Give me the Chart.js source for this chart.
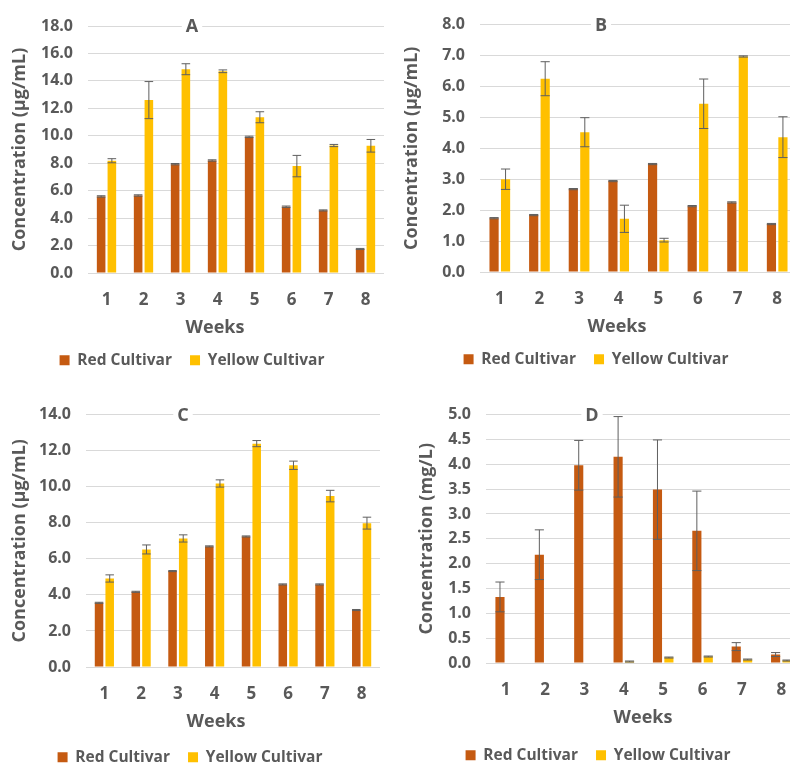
<!DOCTYPE html>
<html lang="en">
<head>
<meta charset="UTF-8" />
<title>Concentration by week</title>
<script src="https://cdn.jsdelivr.net/npm/chart.js"></script>
<style>
  html, body { margin: 0; padding: 0; background: #fff; }
  body { width: 790px; height: 764px; overflow: hidden; position: relative; }
  canvas { position: absolute; }
</style>
</head>
<body>
<canvas id="chartA" width="395" height="380" style="left:0;top:0"></canvas>
<canvas id="chartB" width="436" height="379" style="left:395px;top:0"></canvas>
<canvas id="chartC" width="450" height="387" style="left:0;top:390px"></canvas>
<canvas id="chartD" width="456" height="385" style="left:395px;top:390px"></canvas>

<script>
const weeks = ['1', '2', '3', '4', '5', '6', '7', '8'];

// panel A (µg/mL)
const redA = [5.58, 5.65, 7.93, 8.2, 9.92, 4.83, 4.56, 1.75];
const redErrA = [0.05, 0.05, 0.05, 0.05, 0.05, 0.05, 0.04, 0.04];
const yellowA = [8.18, 12.6, 14.85, 14.7, 11.35, 7.79, 9.29, 9.27];
const yellowErrA = [0.15, 1.35, 0.4, 0.1, 0.4, 0.78, 0.08, 0.46];

// panel B (µg/mL)
const redB = [1.74, 1.84, 2.68, 2.94, 3.49, 2.13, 2.25, 1.55];
const redErrB = [0.02, 0.02, 0.02, 0.02, 0.02, 0.02, 0.02, 0.02];
const yellowB = [3.0, 6.25, 4.52, 1.72, 1.03, 5.44, 6.97, 4.36];
const yellowErrB = [0.33, 0.55, 0.47, 0.44, 0.06, 0.8, 0.02, 0.66];

// panel C (µg/mL)
const redC = [3.56, 4.17, 5.32, 6.69, 7.24, 4.58, 4.58, 3.16];
const redErrC = [0.03, 0.03, 0.03, 0.03, 0.03, 0.03, 0.03, 0.03];
const yellowC = [4.91, 6.52, 7.13, 10.18, 12.39, 11.19, 9.48, 7.98];
const yellowErrC = [0.2, 0.25, 0.2, 0.2, 0.17, 0.23, 0.32, 0.33];

// panel D (mg/L)
const redD = [1.33, 2.18, 3.98, 4.15, 3.49, 2.66, 0.33, 0.17];
const redErrD = [0.3, 0.5, 0.5, 0.81, 1.0, 0.8, 0.08, 0.04];
const yellowD = [0, 0, 0, 0.03, 0.11, 0.13, 0.07, 0.05];
const yellowErrD = [0, 0, 0, 0.01, 0.01, 0.01, 0.01, 0.01];

const FONT = '"Open Sans", sans-serif';
const TEXT = '#595959';
const RED = '#C55A11';
const YELLOW = '#FFC000';

// error bars, drawn from the dataset values through the y scale
const errorBars = {
  id: 'errorBars',
  afterDatasetsDraw(chart) {
    const ctx = chart.ctx;
    const y = chart.scales.y;
    chart.data.datasets.forEach((ds, i) => {
      if (!ds.errors) return;
      chart.getDatasetMeta(i).data.forEach((bar, j) => {
        const e = ds.errors[j];
        if (!e) return;
        const v = ds.data[j];
        const top = y.getPixelForValue(v + e);
        const bot = y.getPixelForValue(Math.max(0, v - e));
        const half = bar.width / 2;
        ctx.save();
        ctx.strokeStyle = '#5f5f5f';
        ctx.lineWidth = 1;
        ctx.beginPath();
        ctx.moveTo(bar.x, top); ctx.lineTo(bar.x, bot);
        ctx.moveTo(bar.x - half, top); ctx.lineTo(bar.x + half, top);
        ctx.moveTo(bar.x - half, bot); ctx.lineTo(bar.x + half, bot);
        ctx.stroke();
        ctx.restore();
      });
    });
  }
};

// panel letter and "Weeks" label
const panelText = {
  id: 'panelText',
  afterDraw(chart, args, opts) {
    const ctx = chart.ctx;
    const area = chart.chartArea;
    ctx.save();
    ctx.textAlign = 'center';
    ctx.textBaseline = 'middle';
    ctx.font = 'bold 18px ' + FONT;
    const w = ctx.measureText(opts.letter).width;
    ctx.fillStyle = '#fff';
    ctx.fillRect(opts.letterX - w / 2 - 4, area.top - 9, w + 8, 18);
    ctx.fillStyle = TEXT;
    ctx.fillText(opts.letter, opts.letterX, area.top + 1);
    ctx.fillText('Weeks', opts.weeksX, area.bottom + 55);
    ctx.restore();
  }
};

function makeChart(id, cfg) {
  const canvas = document.getElementById(id);
  const H = canvas.height;
  return new Chart(canvas, {
    type: 'bar',
    data: {
      labels: weeks,
      datasets: [
        { label: 'Red Cultivar', data: cfg.red, errors: cfg.redErr, backgroundColor: RED,
          categoryPercentage: 0.58, barPercentage: 0.8 },
        { label: 'Yellow Cultivar', data: cfg.yellow, errors: cfg.yellowErr, backgroundColor: YELLOW,
          categoryPercentage: 0.58, barPercentage: 0.8 }
      ]
    },
    options: {
      responsive: false,
      animation: false,
      layout: { padding: { top: cfg.top, right: cfg.right, left: 0, bottom: 2 } },
      plugins: {
        legend: {
          position: 'bottom',
          labels: { boxWidth: 10, boxHeight: 10, padding: 18, color: TEXT,
                    font: { family: FONT, size: 15.5, weight: 'bold' } }
        },
        tooltip: { enabled: false },
        panelText: { letter: cfg.letter, letterX: cfg.letterX, weeksX: cfg.weeksX }
      },
      scales: {
        x: {
          grid: { display: false },
          border: { display: false },
          ticks: { color: TEXT, padding: 9, font: { family: FONT, size: 17, weight: 'bold' } },
          afterFit: s => { s.height = H - cfg.bottom - s.chart.legend.height - 2; }
        },
        y: {
          min: 0, max: cfg.max,
          border: { display: false },
          grid: { color: '#d9d9d9', drawTicks: false },
          ticks: { stepSize: cfg.step, color: TEXT, padding: 15,
                   font: { family: FONT, size: 16, weight: 'bold' },
                   callback: v => Number(v).toFixed(1) },
          title: { display: true, text: cfg.yTitle, color: TEXT, padding: { top: cfg.titlePad, bottom: 0 },
                   font: { family: FONT, size: 18, weight: 'bold' } },
          afterFit: s => { s.width = cfg.yWidth; }
        }
      }
    },
    plugins: [errorBars, panelText]
  });
}

makeChart('chartA', { red: redA, redErr: redErrA, yellow: yellowA, yellowErr: yellowErrA,
  max: 18, step: 2, yTitle: 'Concentration (µg/mL)', letter: 'A', letterX: 192, weeksX: 215,
  top: 26, bottom: 273, right: 11, yWidth: 88, titlePad: 9 });
makeChart('chartB', { red: redB, redErr: redErrB, yellow: yellowB, yellowErr: yellowErrB,
  max: 8, step: 1, yTitle: 'Concentration (µg/mL)', letter: 'B', letterX: 206, weeksX: 222,
  top: 21, bottom: 272, right: 34, yWidth: 85, titlePad: 6 });
makeChart('chartC', { red: redC, redErr: redErrC, yellow: yellowC, yellowErr: yellowErrC,
  max: 14, step: 2, yTitle: 'Concentration (µg/mL)', letter: 'C', letterX: 183, weeksX: 216,
  top: 24, bottom: 277, right: 70, yWidth: 86, titlePad: 9 });
makeChart('chartD', { red: redD, redErr: redErrD, yellow: yellowD, yellowErr: yellowErrD,
  max: 5, step: 0.5, yTitle: 'Concentration (mg/L)', letter: 'D', letterX: 197, weeksX: 248,
  top: 24, bottom: 273, right: 50, yWidth: 91, titlePad: 21 });
</script>
</body>
</html>
